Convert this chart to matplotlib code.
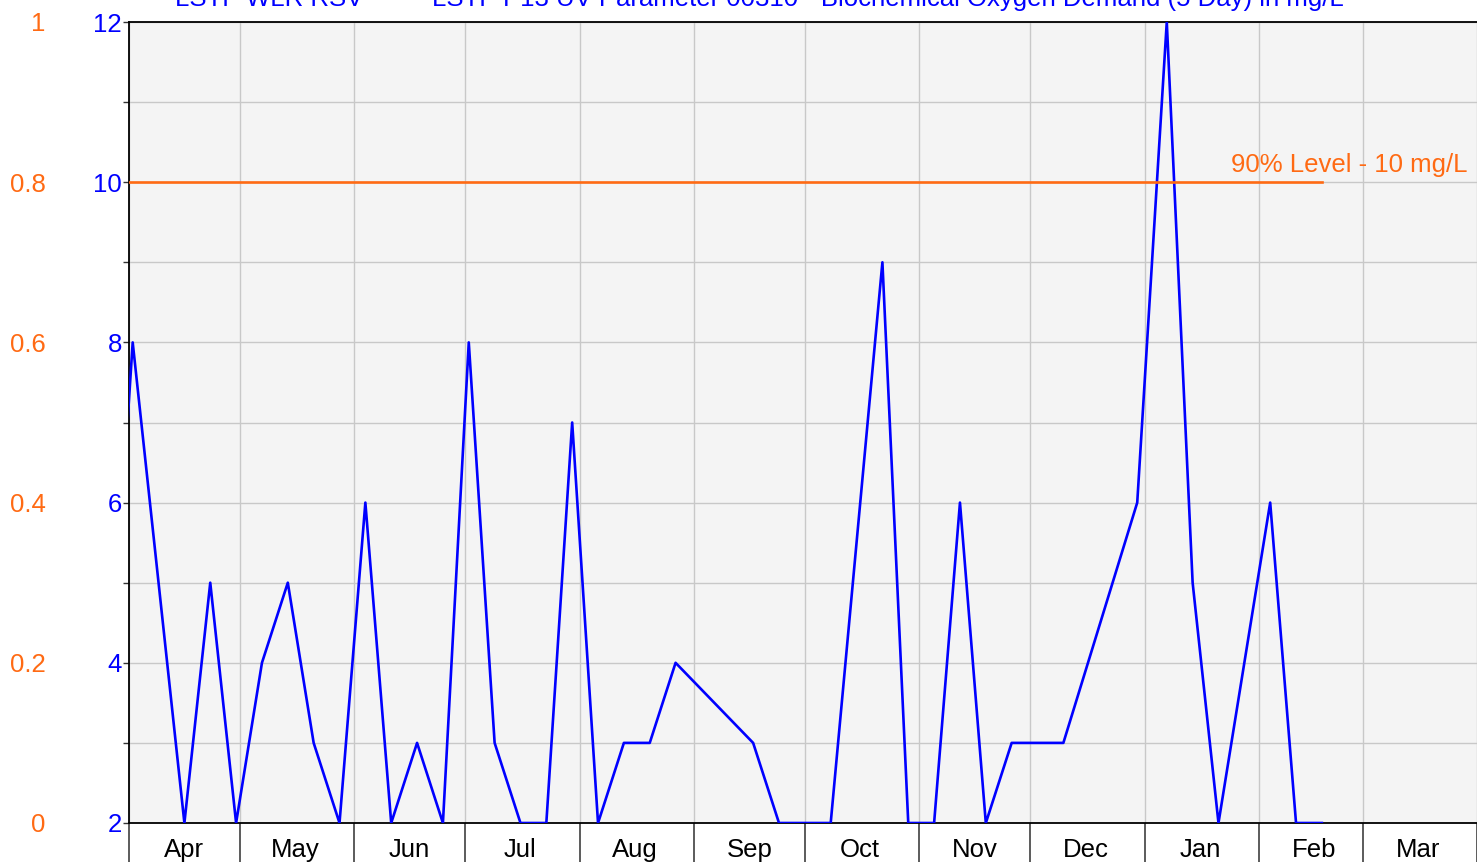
import pandas as pd
import matplotlib.pyplot as plt
import matplotlib.dates as mdates
from matplotlib.ticker import MultipleLocator

plt.rcParams['font.family'] = ['Liberation Sans', 'DejaVu Sans']

# weekly BOD samples (mg/L)
sample_dates = ['2012-03-26', '2012-04-02', '2012-04-16', '2012-04-23', '2012-04-30',
                '2012-05-07', '2012-05-14', '2012-05-21', '2012-05-28', '2012-06-04',
                '2012-06-11', '2012-06-18', '2012-06-25', '2012-07-02', '2012-07-09',
                '2012-07-16', '2012-07-23', '2012-07-30', '2012-08-06', '2012-08-13',
                '2012-08-20', '2012-08-27', '2012-09-17', '2012-09-24', '2012-10-01',
                '2012-10-08', '2012-10-22', '2012-10-29', '2012-11-05', '2012-11-12',
                '2012-11-19', '2012-11-26', '2012-12-03', '2012-12-10', '2012-12-30',
                '2013-01-07', '2013-01-14', '2013-01-21', '2013-02-04', '2013-02-11',
                '2013-02-18']
bod_values = [3, 8, 2, 5, 2,
              4, 5, 3, 2, 6,
              2, 3, 2, 8, 3,
              2, 2, 7, 2, 3,
              3, 4, 3, 2, 2,
              2, 9, 2, 2, 6,
              2, 3, 3, 3, 6,
              12, 5, 2, 6, 2,
              2]
level_90 = 10
level_label = '90% Level - 10 mg/L'
series_names = ['LSTP WLR RSV', 'LSTP P13 UV Parameter 00310 - Biochemical Oxygen Demand (5 Day) in mg/L']
x_start, x_end = '2012-04-01', '2013-04-01'

blue = '#0000ff'
orange = '#ff6a13'
fs = 18.5

dates = pd.to_datetime(sample_dates)

fig = plt.figure(figsize=(14.77, 8.66), dpi=100)
ax = fig.add_axes([129 / 1477, 1 - 823 / 866, 1348 / 1477, 801 / 866])
ax.set_facecolor('#f4f4f4')

ax.plot(dates, bod_values, color=blue, lw=1.9, zorder=3)
ax.plot([pd.Timestamp(x_start), dates[-1]], [level_90, level_90], color=orange, lw=1.9, zorder=3)
ax.text(0.9933, level_90 + 0.21, level_label, color=orange, fontsize=fs,
        ha='right', va='center', transform=ax.get_yaxis_transform())

ax.set_xlim(pd.Timestamp(x_start), pd.Timestamp(x_end))
ax.set_ylim(2, 12)

# y axis (mg/L)
ax.yaxis.set_major_locator(MultipleLocator(2))
ax.yaxis.set_minor_locator(MultipleLocator(1))
ax.tick_params(axis='y', which='both', direction='out', length=4.5, width=1,
               color='#333333', labelcolor=blue, labelsize=fs, pad=0.5)

# x axis: long ticks at month starts, labels mid-month
ax.xaxis.set_major_locator(mdates.MonthLocator())
ax.xaxis.set_major_formatter(plt.NullFormatter())
ax.xaxis.set_minor_locator(mdates.MonthLocator(bymonthday=16))
ax.xaxis.set_minor_formatter(mdates.DateFormatter('%b'))
ax.tick_params(axis='x', which='major', direction='out', length=28, width=1.2, color='#404040')
ax.tick_params(axis='x', which='minor', length=0, labelsize=fs, pad=11)

ax.grid(True, which='both', axis='y', color='#c8c8c8', lw=1)
ax.grid(True, which='major', axis='x', color='#c8c8c8', lw=1)
ax.set_axisbelow(True)

for side in ['left', 'bottom', 'top']:
    ax.spines[side].set_color('black')
    ax.spines[side].set_linewidth(1.3)
ax.spines['right'].set_visible(False)

# secondary (orange) scale on the far left
ax2 = ax.twinx()
ax2.set_ylim(0, 1)
ax2.yaxis.set_major_locator(MultipleLocator(0.2))
ax2.yaxis.tick_left()
ax2.yaxis.set_major_formatter(plt.FuncFormatter(lambda v, p: f'{v:g}'))
ax2.tick_params(axis='y', length=0, labelcolor=orange, labelsize=fs, pad=60)
for s in ax2.spines.values():
    s.set_visible(False)
ax2.patch.set_visible(False)

# series names along the top (clipped as in the original)
fig.text(175 / 1477, 1 - 6 / 866, series_names[0], color=blue, fontsize=fs, va='baseline')
fig.text(432 / 1477, 1 - 6 / 866, series_names[1], color=blue, fontsize=fs, va='baseline')

fig.savefig('out.png', dpi=100)
